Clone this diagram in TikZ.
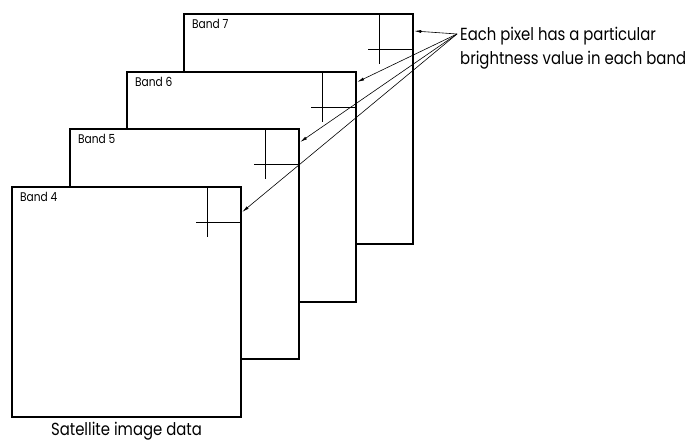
\documentclass[tikz,border=0pt]{standalone}
\usepackage{fontspec}
\setmainfont{Poppins}[FakeStretch=0.85]
\usetikzlibrary{calc,arrows.meta}
\begin{document}
\begin{tikzpicture}[x=1pt,y=-1pt,
  bandbox/.style={draw, fill=white, line width=1.3pt, minimum width=229pt, minimum height=230pt, anchor=north west, inner sep=0pt, outer sep=0pt},
  pixline/.style={line width=0.7pt},
  pointer/.style={line width=0.6pt, -{Latex[length=7pt,width=3pt]}},
  bandlabel/.style={font=\fontsize{12.5}{14}\selectfont, anchor=north west, inner sep=0pt},
  caption/.style={font=\fontsize{17.5}{24}\selectfont, inner sep=0pt}]
\useasboundingbox (0,0) rectangle (687,443);
% Band 7
\node[bandbox] (b7) at (184,14) {};
\draw[pixline] ($(b7.north east)+(-34,0)$) -- ++(0,50);
\draw[pixline] ($(b7.north east)+(-45,35)$) -- ++(45,0);
\node[bandlabel] (l7) at ($(b7.north west)+(8,5)$) {Band 7};
% Band 6
\node[bandbox] (b6) at (127,72) {};
\draw[pixline] ($(b6.north east)+(-34,0)$) -- ++(0,50);
\draw[pixline] ($(b6.north east)+(-45,35)$) -- ++(45,0);
\node[bandlabel] (l6) at ($(b6.north west)+(8,5)$) {Band 6};
% Band 5
\node[bandbox] (b5) at (70,129) {};
\draw[pixline] ($(b5.north east)+(-34,0)$) -- ++(0,50);
\draw[pixline] ($(b5.north east)+(-45,35)$) -- ++(45,0);
\node[bandlabel] (l5) at ($(b5.north west)+(8,5)$) {Band 5};
% Band 4
\node[bandbox] (b4) at (12,187) {};
\draw[pixline] ($(b4.north east)+(-34,0)$) -- ++(0,50);
\draw[pixline] ($(b4.north east)+(-45,35)$) -- ++(45,0);
\node[bandlabel] (l4) at ($(b4.north west)+(8,5)$) {Band 4};
% caption
\node[caption, anchor=north] (cap) at ($(b4.south)+(0,5)$) {Satellite image data};
% annotation
\node[caption, anchor=west, align=left] (note) at (460,48) {Each pixel has a particular\\brightness value in each band};
\coordinate (src) at (457,34);
\coordinate (t7) at ($(b7.north east)+(1.2,17)$);
\coordinate (t6) at ($(b6.north east)+(1.2,10)$);
\coordinate (t5) at ($(b5.north east)+(1.2,13)$);
\coordinate (t4) at ($(b4.north east)+(1.2,25)$);
\draw[pointer] (src) -- (t7);
\draw[pointer] (src) -- (t6);
\draw[pointer] (src) -- (t5);
\draw[pointer] (src) -- (t4);
\end{tikzpicture}
\end{document}
